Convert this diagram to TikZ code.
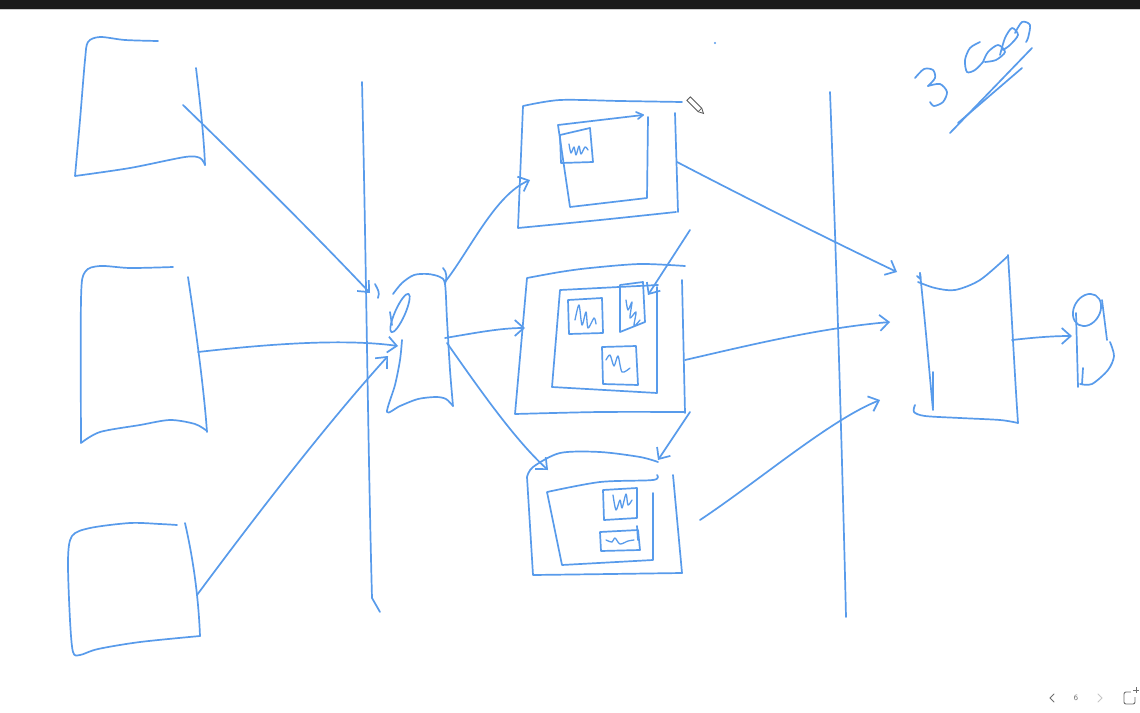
\documentclass[tikz,border=0pt]{standalone}
\usetikzlibrary{arrows.meta}
\definecolor{penblue}{RGB}{88,155,235}
\definecolor{barbg}{RGB}{27,27,27}
\definecolor{uigray}{RGB}{110,110,110}
\tikzset{
  pen/.style={draw=penblue, line width=1.7pt, line cap=round, line join=round},
  arr/.style={pen, -{Straight Barb[length=9pt,width=16pt,line width=1.7pt]}},
  scrib/.style={pen, line width=1.3pt},
}
\begin{document}
\begin{tikzpicture}[x=1pt,y=-1pt]
\useasboundingbox (0,0) rectangle (1140,712);
\fill[white] (0,0) rectangle (1140,712);
\fill[barbg] (0,0) rectangle (1140,9);
\draw[gray!40, line width=0.6pt] (0,9.5) -- (1140,9.5);

% ---------- left boxes ----------
\draw[pen] plot[smooth] coordinates{(158,41) (125,40) (100,37) (88,42) (85,60) (80,120) (75,176)}
  -- plot[smooth] coordinates{(75,176) (130,168) (185,157) (200,158) (205,165)};
\draw[pen] (196,68) .. controls (201,110) and (204,140) .. (205,165);

\draw[pen] plot[smooth] coordinates{(173,267) (130,268) (100,266) (85,272) (81,300) (81,443)}
  -- plot[smooth] coordinates{(81,443) (100,432) (140,425) (170,420) (195,424) (207,431)};
\draw[pen] (188,277) .. controls (196,330) and (204,390) .. (207,432);

\draw[pen] plot[smooth] coordinates{(177,525) (160,524) (130,523) (90,528) (72,536) (68,560) (70,620) (73,652) (80,655) (98,649) (140,642) (200,636)};
\draw[pen] (185,523) .. controls (190,545) and (198,585) .. (200,636);

% ---------- dividers ----------
\draw[pen] (362,82) .. controls (366,250) and (368,450) .. (372,598) -- (380,612);
\draw[pen] (830,92) .. controls (836,250) and (842,450) .. (846,617);

% ---------- funnel ----------
\draw[pen] plot[smooth] coordinates{(393,294) (402,283) (414,275) (428,274) (440,277) (445,284) (447,320) (450,370) (453,406)};
\draw[pen] plot[smooth] coordinates{(453,406) (446,399) (436,397) (418,399) (400,406) (387,412) (395,385) (400,360) (402,340)};
\draw[pen, rotate around={-24:(400,313)}] (400,313) ellipse (5 and 21);
\draw[pen] (390,312) -- (392,325);
\draw[pen] (375,284) .. controls (378,290) and (380,292) .. (378,298);
\draw[pen] (443,268) .. controls (447,272) and (447,278) .. (445,284);

% ---------- top center box ----------
\draw[pen] plot[smooth] coordinates{(682,102) (620,101) (560,100) (523,106)} -- (518,228)
  -- plot[smooth] coordinates{(518,228) (600,220) (676,212)};
\draw[pen] (675,113) -- (678,212);
\draw[pen] (643,115) -- (558,125) -- (570,207) -- (647,198) -- (648,117);
\draw[pen] (636,112) -- (643,115) -- (638,119);
\draw[pen] (560,135) -- (590,128) -- (593,162) -- (561,163) -- cycle;
\draw[scrib] plot[smooth] coordinates{(569,144) (571,153) (574,147) (576,155) (579,146) (581,154) (585,147) (588,150)};

% ---------- middle center box ----------
\draw[pen] plot[smooth] coordinates{(685,266) (640,264) (590,268) (560,272) (527,278)} -- (515,414)
  -- plot[smooth] coordinates{(515,414) (600,412) (685,412)};
\draw[pen] (682,280) -- (685,413);
\draw[pen] (658,285) -- (560,290) -- (552,387) -- (657,393) -- (657,287);
\draw[pen] (568,300) -- (602,298) -- (603,333) -- (569,334) -- cycle;
\draw[pen] (620,285) -- (643,282) -- (645,322) -- (620,332) -- cycle;
\draw[pen] (602,347) -- (636,346) -- (638,385) -- (603,384) -- cycle;
\draw[scrib] plot[smooth] coordinates{(575,320) (579,305) (582,325) (586,312) (588,328) (594,318) (596,324)};
\draw[scrib] plot[smooth] coordinates{(626,300) (628,310) (632,302) (630,318) (636,312) (634,326) (640,320)};
\draw[scrib] plot[smooth] coordinates{(606,360) (610,355) (614,366) (618,356) (622,372) (630,368)};

% ---------- bottom center box ----------
\draw[pen] plot[smooth] coordinates{(658,462) (640,457) (600,452) (560,453) (533,467) (527,477)} -- (533,575)
  -- plot[smooth] coordinates{(533,575) (610,574) (682,573)};
\draw[pen] (673,475) -- (682,573);
\draw[pen] plot[smooth] coordinates{(657,475) (653,480) (600,482) (547,492)} -- (562,565) -- (653,560) -- (653,493);
\draw[pen] (603,490) -- (637,488) -- (637,518) -- (604,520) -- cycle;
\draw[pen] (600,532) -- (638,530) -- (640,550) -- (601,551) -- cycle;
\draw[scrib] plot[smooth] coordinates{(613,495) (616,510) (620,500) (622,508) (626,494) (628,505) (632,500)};
\draw[scrib] plot[smooth] coordinates{(606,540) (612,542) (615,538) (620,544) (628,541) (634,540)};
\draw[pen] (637,526) -- (638,540);

% ---------- right box ----------
\draw[pen] (917,276) .. controls (921,279) and (921,282) .. (920,273);
\draw[pen] (920,273) .. controls (926,330) and (930,380) .. (933,410);
\draw[pen] plot[smooth] coordinates{(918,282) (935,288) (955,290) (980,280) (1008,256)};
\draw[pen] (1008,255) .. controls (1012,320) and (1015,380) .. (1018,423);
\draw[pen] plot[smooth] coordinates{(915,405) (914,412) (925,416) (960,418) (1000,420) (1018,423)};
\draw[pen] (933,372) -- (933,408);

% ---------- cylinder ----------
\draw[pen, rotate around={-30:(1087,310)}] (1087,310) ellipse (13 and 17);
\draw[pen] (1076,313) -- (1078,387);
\draw[pen] (1102,300) -- (1107,340);
\draw[pen] plot[smooth] coordinates{(1110,342) (1114,356) (1108,370) (1092,384) (1080,384)};
\draw[pen] (1083,368) -- (1082,384);

% ---------- connectors ----------
\coordinate (b1) at (183,105);   \coordinate (f1) at (370,293);
\coordinate (b2) at (198,352);   \coordinate (f2) at (398,346);
\coordinate (b3) at (197,595);   \coordinate (f3) at (388,356);
\coordinate (fo1) at (445,282);  \coordinate (t1) at (530,180);
\coordinate (fo2) at (445,338);  \coordinate (m1) at (525,328);
\coordinate (fo3) at (447,343);  \coordinate (d1) at (548,470);
\coordinate (x1) at (690,230);   \coordinate (m2) at (648,295);
\coordinate (x2) at (690,412);   \coordinate (d2) at (658,460);
\coordinate (t2) at (677,162);   \coordinate (r1) at (897,272);
\coordinate (m3) at (685,360);   \coordinate (r2) at (890,322);
\coordinate (d3) at (700,520);   \coordinate (r3) at (880,400);
\coordinate (r4) at (1012,340);  \coordinate (c1) at (1072,336);

\draw[arr] (b1) .. controls (250,170) and (320,240) .. (f1);
\draw[arr] (b2) .. controls (260,345) and (340,338) .. (f2);
\draw[arr] (b3) .. controls (260,510) and (330,420) .. (f3);
\draw[arr] (fo1) .. controls (470,250) and (495,195) .. (t1);
\draw[arr] (fo2) .. controls (475,333) and (500,328) .. (m1);
\draw[arr] (fo3) .. controls (480,390) and (515,440) .. (d1);
\draw[arr] (x1) -- (m2);
\draw[arr] (x2) -- (d2);
\draw[arr] (t2) .. controls (750,200) and (830,240) .. (r1);
\draw[arr] (m3) .. controls (750,345) and (820,328) .. (r2);
\draw[arr] (d3) .. controls (760,480) and (830,420) .. (r3);
\draw[arr] (r4) .. controls (1030,338) and (1050,336) .. (c1);

% ---------- handwritten note ----------
\draw[pen] plot[smooth] coordinates{(915,78) (924,69) (933,70) (935,78) (928,86)};
\draw[pen] plot[smooth] coordinates{(928,86) (940,84) (947,92) (943,102) (934,106) (930,102)};
\draw[pen] plot[smooth] coordinates{(980,42) (970,48) (965,60) (967,72) (975,70) (983,62)};
\draw[pen] plot[smooth] coordinates{(983,62) (988,52) (998,45) (1005,52) (996,60) (985,62)};
\draw[pen] plot[smooth] coordinates{(1000,55) (1005,38) (1012,28) (1018,35) (1010,45) (1003,50)};
\draw[pen] plot[smooth] coordinates{(1015,33) (1022,22) (1030,25) (1028,38) (1026,42)};
\draw[pen] (950,133) -- (1032,48);
\draw[pen] (958,123) -- (1022,68);

% ---------- small marks ----------
\fill[penblue] (715,43) circle (1.2);
\begin{scope}[shift={(695,105)}, rotate=45]
  \draw[gray!70!black, line width=0.8pt] (-2.5,-9) rectangle (2.5,7);
  \draw[gray!70!black, line width=0.8pt] (-2.5,7) -- (0,12) -- (2.5,7);
\end{scope}

% ---------- page controls ----------
\draw[uigray, line width=1pt, line cap=round] (1054,694) -- (1050,698) -- (1054,702);
\node[uigray, font=\sffamily\footnotesize] (pg) at (1076,698) {6};
\draw[gray!45, line width=1pt, line cap=round] (1098,694) -- (1102,698) -- (1098,702);
\draw[uigray, line width=0.9pt, rounded corners=2pt] (1124,704) rectangle (1135,692);
\draw[white, line width=2pt] (1131,692) -- (1136,692) (1135,692) -- (1135,697);
\draw[uigray, line width=0.9pt] (1133,690) -- (1139,690) (1136,687) -- (1136,693);
\end{tikzpicture}
\end{document}
